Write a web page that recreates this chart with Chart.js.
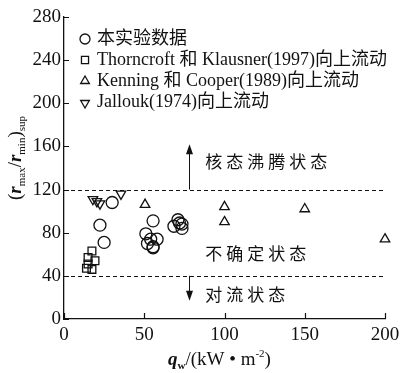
<!DOCTYPE html>
<html lang="zh">
<head>
  <meta charset="UTF-8">
  <title>(rmax/rmin)sup - qw</title>
  <script src="https://cdn.jsdelivr.net/npm/chart.js"></script>
  <style>
    body { margin: 0; background: #fff; }
    #wrap { width: 400px; height: 373px; }
  </style>
</head>
<body>
  <div id="wrap"><canvas id="chart" width="400" height="373"></canvas></div>
  <script>
    // 数据
    const ownX = [30, 22.4, 25, 55.5, 51, 52, 55.5, 58, 54, 55.5, 68.5, 71, 73.5, 72, 73.5];
    const ownY = [108, 87, 71, 91, 79, 70, 67, 74, 74, 66, 86, 92, 84, 89, 88];
    const thornX = [17.4, 19.3, 15, 17.4, 15, 14];
    const thornY = [63, 54, 57, 46, 51, 47];
    const kennX = [50.5, 100, 100, 150, 200];
    const kennY = [106, 104, 90, 102, 74];
    const jallX = [18, 22.4, 20.5, 35.5];
    const jallY = [111, 107, 109, 116];

    const legendLabels = [
      '本实验数据',
      'Thorncroft 和 Klausner(1997)向上流动',
      'Kenning 和 Cooper(1989)向上流动',
      'Jallouk(1974)向上流动'
    ];
    const xTicks = [0, 50, 100, 150, 200];
    const yTicks = [0, 40, 80, 120, 160, 200, 240, 280];
    const limits = [120, 40];
    const regionLabels = [
      { text: '核态沸腾状态', x: 88, y: 146 },
      { text: '不确定状态', x: 88, y: 61 },
      { text: '对流状态', x: 88, y: 23 }
    ];
    const arrows = [{ x: 78, from: 120, to: 162 }, { x: 78, from: 40, to: 17 }];

    const pts = (xs, ys) => xs.map((x, i) => ({ x: x, y: ys[i] }));
    const SERIF = '"Liberation Serif", "Noto Sans CJK SC", serif';

    function mk(label, data, style, rot, r) {
      return {
        label: label, data: data, pointStyle: style, rotation: rot || 0,
        pointRadius: r, pointBorderWidth: 1.3, borderColor: '#111',
        backgroundColor: 'rgba(0,0,0,0)', showLine: false, clip: false
      };
    }

    const overlay = {
      id: 'overlay',
      afterDraw(chart) {
        const ctx = chart.ctx;
        const xs = chart.scales.x, ys = chart.scales.y;
        const a = chart.chartArea;
        ctx.save();
        ctx.strokeStyle = '#111';
        ctx.fillStyle = '#111';

        // 内向刻度
        ctx.lineWidth = 1.2;
        ctx.beginPath();
        yTicks.forEach(v => {
          const py = Math.round(ys.getPixelForValue(v)) + 0.5;
          ctx.moveTo(a.left, py); ctx.lineTo(a.left + 5, py);
        });
        xTicks.forEach(v => {
          const px = Math.round(xs.getPixelForValue(v)) + 0.5;
          ctx.moveTo(px, a.bottom); ctx.lineTo(px, a.bottom - 6);
        });
        ctx.stroke();

        // 虚线分界
        ctx.setLineDash([4, 3]);
        ctx.lineWidth = 1;
        limits.forEach(v => {
          const py = Math.round(ys.getPixelForValue(v)) + 0.5;
          ctx.beginPath();
          ctx.moveTo(a.left, py); ctx.lineTo(xs.getPixelForValue(200), py);
          ctx.stroke();
        });
        ctx.setLineDash([]);

        // 箭头
        arrows.forEach(ar => {
          const px = Math.round(xs.getPixelForValue(ar.x)) + 0.5;
          const y0 = ys.getPixelForValue(ar.from), y1 = ys.getPixelForValue(ar.to);
          const dir = y1 < y0 ? 1 : -1;
          ctx.beginPath();
          ctx.moveTo(px, y0); ctx.lineTo(px, y1 + dir * 8);
          ctx.stroke();
          ctx.beginPath();
          ctx.moveTo(px, y1);
          ctx.lineTo(px - 3.5, y1 + dir * 10);
          ctx.lineTo(px + 3.5, y1 + dir * 10);
          ctx.closePath();
          ctx.fill();
        });

        // 区域文字
        ctx.font = '17px "Noto Sans CJK SC"';
        ctx.letterSpacing = '4px';
        ctx.textBaseline = 'middle';
        ctx.textAlign = 'left';
        regionLabels.forEach(t => {
          ctx.fillText(t.text, xs.getPixelForValue(t.x), ys.getPixelForValue(t.y));
        });
        ctx.letterSpacing = '0px';

        // 图例
        const lx = a.left + 21, ly0 = a.top + 22, dy = 21;
        chart.data.datasets.forEach((ds, i) => {
          const y = ly0 + i * dy;
          ctx.lineWidth = 1.3;
          ctx.strokeStyle = '#111';
          ctx.fillStyle = 'rgba(0,0,0,0)';
          Chart.helpers.drawPoint(ctx, {
            pointStyle: ds.pointStyle, rotation: ds.rotation,
            radius: 5, borderWidth: 1.3
          }, lx, y + (ds.rotation ? 1 : 0));
          ctx.fillStyle = '#111';
          ctx.font = '18px ' + SERIF;
          ctx.fillText(legendLabels[i], lx + 12, y);
        });

        // 坐标轴标题
        drawXTitle(ctx, (a.left + a.right) / 2 - 5, 359);
        drawYTitle(ctx, 15, 158);
        ctx.restore();
      }
    };

    function parts(ctx, list, x, y, align) {
      let w = 0;
      list.forEach(p => { ctx.font = p.f; w += ctx.measureText(p.t).width; });
      let cx = align === 'center' ? x - w / 2 : x;
      list.forEach(p => {
        ctx.font = p.f;
        ctx.fillText(p.t, cx, y + (p.dy || 0));
        cx += ctx.measureText(p.t).width;
      });
    }

    function drawXTitle(ctx, x, y) {
      ctx.textBaseline = 'alphabetic';
      parts(ctx, [
        { t: 'q', f: 'italic bold 19px "Liberation Serif"' },
        { t: 'w', f: 'bold 11px "Liberation Serif"', dy: 4 },
        { t: '/(kW • m', f: '19px "Liberation Serif"' },
        { t: '-2', f: '11px "Liberation Serif"', dy: -8 },
        { t: ')', f: '19px "Liberation Serif"' }
      ], x, y + 6, 'center');
    }

    function drawYTitle(ctx, x, y) {
      ctx.save();
      ctx.translate(x, y);
      ctx.rotate(-Math.PI / 2);
      ctx.textBaseline = 'alphabetic';
      parts(ctx, [
        { t: '(', f: '19px "Liberation Serif"' },
        { t: 'r', f: 'italic bold 19px "Liberation Serif"' },
        { t: 'max', f: '11px "Liberation Serif"', dy: 4 },
        { t: '/', f: '19px "Liberation Serif"' },
        { t: 'r', f: 'italic bold 19px "Liberation Serif"' },
        { t: 'min', f: '11px "Liberation Serif"', dy: 4 },
        { t: ')', f: '19px "Liberation Serif"' },
        { t: 'sup', f: '11px "Liberation Serif"', dy: 4 }
      ], 0, 6, 'center');
      ctx.restore();
    }

    new Chart(document.getElementById('chart'), {
      type: 'scatter',
      data: {
        datasets: [
          mk(legendLabels[0], pts(ownX, ownY), 'circle', 0, 6),
          mk(legendLabels[1], pts(thornX, thornY), 'rect', 0, 5.5),
          mk(legendLabels[2], pts(kennX, kennY), 'triangle', 0, 5.5),
          mk(legendLabels[3], pts(jallX, jallY), 'triangle', 180, 5.5)
        ]
      },
      options: {
        responsive: false,
        animation: false,
        layout: { padding: { top: 17, right: 15, left: 0, bottom: 0 } },
        plugins: {
          legend: { display: false },
          tooltip: { enabled: false }
        },
        scales: {
          x: {
            type: 'linear', min: 0, max: 200,
            afterFit: s => { s.height = 54; s.paddingRight = 0; s.paddingLeft = 0; },
            afterBuildTicks: s => { s.ticks = xTicks.map(v => ({ value: v })); },
            grid: { display: false, drawTicks: false },
            border: { display: true, color: '#111', width: 1.3 },
            ticks: { color: '#111', padding: 5, font: { family: 'Liberation Serif', size: 19 } }
          },
          y: {
            type: 'linear', min: 0, max: 280,
            afterFit: s => { s.width = 64; s.paddingTop = 0; s.paddingBottom = 0; },
            afterBuildTicks: s => { s.ticks = yTicks.map(v => ({ value: v })); },
            grid: { display: false, drawTicks: false },
            border: { display: true, color: '#111', width: 1.3 },
            ticks: { color: '#111', padding: 3, font: { family: 'Liberation Serif', size: 19 } }
          }
        }
      },
      plugins: [overlay]
    });
  </script>
</body>
</html>
